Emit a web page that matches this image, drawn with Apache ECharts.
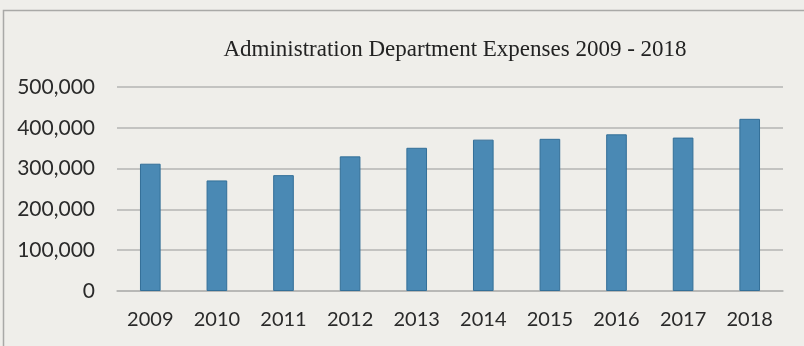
<!DOCTYPE html>
<html>
<head>
<meta charset="utf-8">
<style>
  html, body { margin: 0; padding: 0; background: #efeeea; }
  #chart { width: 804px; height: 346px; }
</style>
<script src="https://cdn.jsdelivr.net/npm/echarts@6/dist/echarts.min.js"></script>
</head>
<body>
<div id="chart"></div>
<script>
// Yearly administration expenses
const years = ['2009', '2010', '2011', '2012', '2013', '2014', '2015', '2016', '2017', '2018'];
const expenses = [312000, 271000, 284000, 330000, 351000, 371000, 373000, 384000, 376000, 422000];
const yTicks = [0, 100000, 200000, 300000, 400000, 500000];

const chart = echarts.init(document.getElementById('chart'), null, { renderer: 'canvas' });

chart.setOption({
  backgroundColor: '#efeeea',
  animation: false,
  title: {
    text: 'Administration Department Expenses 2009 - 2018',
    left: 450,
    top: 33,
    textAlign: 'center',
    textStyle: {
      fontFamily: 'Liberation Serif',
      fontWeight: 'normal',
      fontSize: 23,
      color: '#222222'
    }
  },
  graphic: [{
    type: 'rect',
    silent: true,
    shape: { x: 3.5, y: 10.5, width: 830, height: 360 },
    style: { fill: 'none', stroke: '#a9a9a7', lineWidth: 1.5 }
  }],
  grid: { left: 117, right: 21, top: 87, bottom: 55 },
  xAxis: {
    type: 'category',
    data: years,
    axisTick: { show: false },
    axisLine: { lineStyle: { color: '#b5b5b3', width: 1.5 } },
    axisLabel: {
      margin: 19,
      fontFamily: 'Lato',
      fontSize: 20,
      color: '#2a2a2a'
    }
  },
  yAxis: {
    type: 'value',
    min: yTicks[0],
    max: yTicks[yTicks.length - 1],
    interval: yTicks[1] - yTicks[0],
    axisLine: { show: false },
    axisTick: { show: false },
    splitLine: { lineStyle: { color: '#b5b5b3', width: 1.5 } },
    axisLabel: {
      margin: 22,
      fontFamily: 'Lato',
      fontSize: 21,
      color: '#2a2a2a',
      formatter: v => v.toLocaleString('en-US')
    }
  },
  series: [{
    type: 'bar',
    data: expenses,
    barWidth: '31%',
    itemStyle: {
      color: '#4a89b4',
      borderColor: '#336f98',
      borderWidth: 1
    }
  }]
});
</script>
</body>
</html>
